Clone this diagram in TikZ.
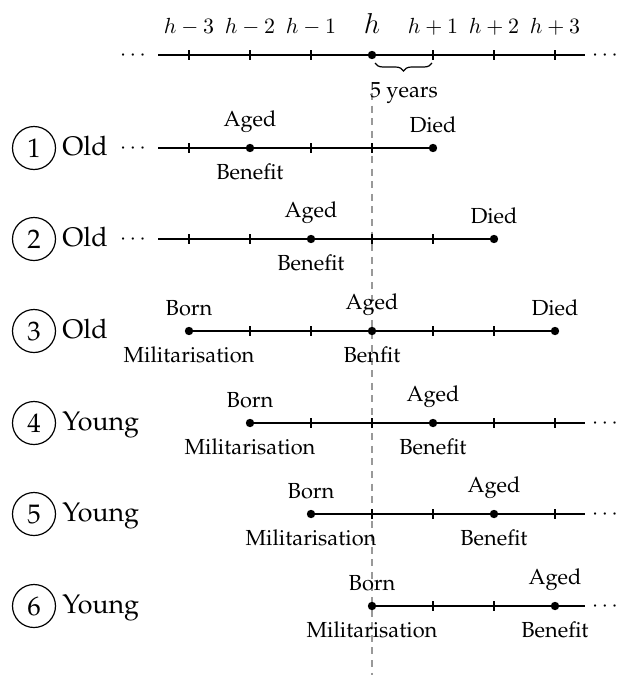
\documentclass[tikz,border=0pt]{standalone}
\usepackage[T1]{fontenc}
\renewcommand{\rmdefault}{ppl}
\usetikzlibrary{decorations.pathreplacing}
\newcommand{\labfont}{\fontsize{10.9}{13}\selectfont}
\newcommand{\bigfont}{\fontsize{13.4}{16}\selectfont}
\newcommand{\hfont}{\fontsize{15}{18}\selectfont}
\begin{document}
\begin{tikzpicture}[x=0.5pt,y=-0.5pt,
  axisline/.style={line width=0.8pt},
  tk/.style={inner sep=0pt,outer sep=0pt,minimum width=0.65pt,minimum height=4.6pt,fill=black},
  dotpt/.style={circle,fill=black,inner sep=0pt,outer sep=0pt,minimum size=4.2pt},
  up/.style={above=7.5pt,inner sep=0pt,font=\labfont},
  dn/.style={below=7.5pt,inner sep=0pt,font=\labfont},
  dotsnode/.style={anchor=base,inner sep=0pt,font=\labfont},
  grp/.style={circle,draw,line width=0.6pt,minimum size=21.5pt,inner sep=0pt,font=\bigfont},
  kind/.style={anchor=base west,inner sep=0pt,font=\bigfont},
  hlab/.style={anchor=base,inner sep=0pt,font=\labfont},
  guide/.style={draw=black!40,line width=0.6pt,dash pattern=on 3.5pt off 2.8pt}
]
\useasboundingbox (0,0) rectangle (625,675);

% guide line at h
\coordinate (gtop) at (372,93);
\coordinate (gbot) at (372,675);
\draw[guide] (gtop) -- (gbot);

% top axis
\coordinate (ax0) at (158,55);
\coordinate (ax1) at (585,55);
\draw[axisline] (ax0) -- (ax1);
\foreach \k/\n in {-3/m3,-2/m2,-1/m1,1/p1,2/p2,3/p3}
  \node[tk] (t\n) at ({372+61*\k},55) {};
\node[dotpt] (th) at (372,55) {};
\node[dotsnode] (axl) at (133,60) {$\cdots$};
\node[dotsnode] (axr) at (605,60) {$\cdots$};
\node[hlab] (lm3) at (189,33) {$h-3$};
\node[hlab] (lm2) at (250,33) {$h-2$};
\node[hlab] (lm1) at (311,33) {$h-1$};
\node[hlab,font=\hfont] (lh) at (372,33) {$h$};
\node[hlab] (lp1) at (433,33) {$h+1$};
\node[hlab] (lp2) at (494,33) {$h+2$};
\node[hlab] (lp3) at (555,33) {$h+3$};
\coordinate (b0) at (375,63);
\coordinate (b1) at (432,63);
\draw[decorate,decoration={brace,mirror,amplitude=4pt},line width=0.6pt] (b0) -- (b1);
\node[hlab] (yrs) at (404,97) {5 years};

% row 1
\node[grp] (c1) at (34,148) {1};
\node[kind] (k1) at (62,155) {Old};
\node[dotsnode] (d1) at (133,153) {$\cdots$};
\coordinate (r1s) at (158,148);
\foreach \x/\n in {189/1,311/2,372/3} \node[tk] (r1t\n) at (\x,148) {};
\node[dotpt] (r1a) at (250,148) {};
\node[dotpt] (r1d) at (433,148) {};
\draw[axisline] (r1s) -- (r1d);
\node[up] at (r1a) {Aged};
\node[dn] at (r1a) {Benefit};
\node[up] at (r1d) {Died};

% row 2
\node[grp] (c2) at (34,239) {2};
\node[kind] (k2) at (62,246) {Old};
\node[dotsnode] (d2) at (133,244) {$\cdots$};
\coordinate (r2s) at (158,239);
\foreach \x/\n in {189/1,250/2,372/3,433/4} \node[tk] (r2t\n) at (\x,239) {};
\node[dotpt] (r2a) at (311,239) {};
\node[dotpt] (r2d) at (494,239) {};
\draw[axisline] (r2s) -- (r2d);
\node[up] at (r2a) {Aged};
\node[dn] at (r2a) {Benefit};
\node[up] at (r2d) {Died};

% row 3
\node[grp] (c3) at (34,331) {3};
\node[kind] (k3) at (62,338) {Old};
\foreach \x/\n in {250/1,311/2,433/3,494/4} \node[tk] (r3t\n) at (\x,331) {};
\node[dotpt] (r3b) at (189,331) {};
\node[dotpt] (r3a) at (372,331) {};
\node[dotpt] (r3d) at (555,331) {};
\draw[axisline] (r3b) -- (r3d);
\node[up] at (r3b) {Born};
\node[dn] at (r3b) {Militarisation};
\node[up] at (r3a) {Aged};
\node[dn] at (r3a) {Benfit};
\node[up] at (r3d) {Died};

% row 4
\node[grp] (c4) at (34,423) {4};
\node[kind] (k4) at (62,430) {Young};
\foreach \x/\n in {311/1,372/2,494/3,555/4} \node[tk] (r4t\n) at (\x,423) {};
\node[dotpt] (r4b) at (250,423) {};
\node[dotpt] (r4a) at (433,423) {};
\coordinate (r4e) at (585,423);
\node[dotsnode] (d4) at (605,428) {$\cdots$};
\draw[axisline] (r4b) -- (r4e);
\node[up] at (r4b) {Born};
\node[dn] at (r4b) {Militarisation};
\node[up] at (r4a) {Aged};
\node[dn] at (r4a) {Benefit};

% row 5
\node[grp] (c5) at (34,514) {5};
\node[kind] (k5) at (62,521) {Young};
\foreach \x/\n in {372/1,433/2,555/3} \node[tk] (r5t\n) at (\x,514) {};
\node[dotpt] (r5b) at (311,514) {};
\node[dotpt] (r5a) at (494,514) {};
\coordinate (r5e) at (585,514);
\node[dotsnode] (d5) at (605,519) {$\cdots$};
\draw[axisline] (r5b) -- (r5e);
\node[up] at (r5b) {Born};
\node[dn] at (r5b) {Militarisation};
\node[up] at (r5a) {Aged};
\node[dn] at (r5a) {Benefit};

% row 6
\node[grp] (c6) at (34,606) {6};
\node[kind] (k6) at (62,613) {Young};
\foreach \x/\n in {433/1,494/2} \node[tk] (r6t\n) at (\x,606) {};
\node[dotpt] (r6b) at (372,606) {};
\node[dotpt] (r6a) at (555,606) {};
\coordinate (r6e) at (585,606);
\node[dotsnode] (d6) at (605,611) {$\cdots$};
\draw[axisline] (r6b) -- (r6e);
\node[up] at (r6b) {Born};
\node[dn] at (r6b) {Militarisation};
\node[up] at (r6a) {Aged};
\node[dn] at (r6a) {Benefit};
\end{tikzpicture}
\end{document}
